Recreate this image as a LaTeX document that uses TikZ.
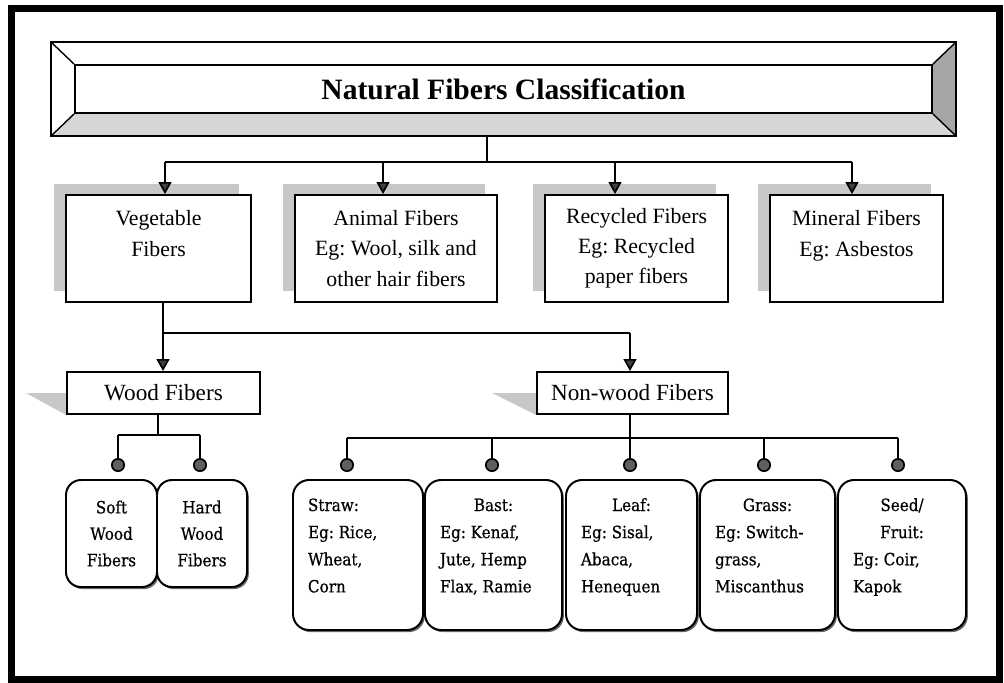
\documentclass[tikz,border=0pt]{standalone}
\usepackage{fontspec}
\setmainfont{Liberation Serif}
\newfontfamily\lowfont[FakeStretch=0.9,FakeBold=0.6]{DejaVu Serif}
\usetikzlibrary{arrows.meta,shadows,backgrounds,calc}

\newlength\pxu
\setlength\pxu{0.25mm}
\newcommand\cellText[3]{\parbox[c][#1\pxu][t]{#2\pxu}{\raggedright#3}}
\frenchspacing

\definecolor{shadeLight}{RGB}{214,214,214}
\definecolor{shadeDark}{RGB}{165,165,165}
\definecolor{flatShadow}{RGB}{200,200,200}
\definecolor{dotGray}{RGB}{95,95,95}

\begin{document}
\def\bevelX{23}
\def\bevelY{22}
\def\busTop{162}
\def\busVeg{333}
\def\busWood{435}
\def\busNonwood{438}
\begin{tikzpicture}[x=\pxu, y=-\pxu,
    busLine/.style={line width=1.2pt},
    arrowLine/.style={line width=1.2pt, -{Triangle[length=3mm, width=3.25mm, fill=black!75]}},
    dotLine/.style={line width=1.2pt, -{Circle[length=3.5mm, fill=dotGray]}, shorten >=7\pxu},
    classBox/.style={draw, line width=1.4pt, fill=white, align=center, inner sep=0pt,
      minimum height=107\pxu, font=\fontsize{15.5}{21.5}\selectfont,
      general shadow={fill=flatShadow, shadow xshift=-12\pxu, shadow yshift=11\pxu}},
    typeBox/.style={draw, line width=1.4pt, fill=white, inner sep=0pt,
      minimum height=42\pxu, font=\fontsize{16.5}{18}\selectfont},
    woodBox/.style={draw, line width=1.4pt, fill=white, rounded corners=15\pxu,
      align=center, inner sep=0pt, minimum height=107\pxu,
      font=\lowfont\fontsize{12}{18.8}\selectfont,
      drop shadow={shadow xshift=1.3pt, shadow yshift=-1.5pt, opacity=0.6, fill=black}},
    leafBox/.style={draw, line width=1.4pt, fill=white, rounded corners=16\pxu,
      inner xsep=15\pxu, inner ysep=12\pxu,
      font=\lowfont\fontsize{12}{19.3}\selectfont,
      drop shadow={shadow xshift=1.3pt, shadow yshift=-1.5pt, opacity=0.6, fill=black}}
  ]
  \useasboundingbox (0,0) rectangle (1004,682);
  \draw[line width=7\pxu] (11.5,8.5) rectangle (999,679);

  \node[draw, line width=1.4pt, fill=white, minimum width=857\pxu, minimum height=48\pxu,
    font=\bfseries\fontsize{21}{24}\selectfont] (title) at (503.5,89)
    {Natural Fibers Classification};
  \coordinate (tNW) at ($(title.north west)+(-\bevelX,-\bevelY)$);
  \coordinate (tNE) at ($(title.north east)+(\bevelX,-\bevelY)$);
  \coordinate (tSW) at ($(title.south west)+(-\bevelX,\bevelY)$);
  \coordinate (tSE) at ($(title.south east)+(\bevelX,\bevelY)$);
  \begin{scope}[on background layer]
    \fill[shadeLight] (title.south west) -- (title.south east) -- (tSE) -- (tSW) -- cycle;
    \fill[shadeDark] (title.north east) -- (tNE) -- (tSE) -- (title.south east) -- cycle;
  \end{scope}
  \draw[line width=1.4pt] (tNW) rectangle (tSE);
  \draw[line width=1pt]
    (tNW) -- (title.north west)
    (tNE) -- (title.north east)
    (tSW) -- (title.south west)
    (tSE) -- (title.south east);

  \node[classBox, minimum width=185\pxu] (veg) at (158.5,248.5) {Vegetable\\Fibers\\~};
  \node[classBox, minimum width=202\pxu] (animal) at (396,248.5)
    {Animal Fibers\\Eg: Wool, silk and\\other hair fibers};
  \node[classBox, minimum width=183\pxu] (recycled) at (636.5,248.5)
    {Recycled Fibers\\Eg: Recycled\\paper fibers};
  \node[classBox, minimum width=173\pxu] (mineral) at (856.5,248.5)
    {Mineral Fibers\\Eg: Asbestos\\~};

  \coordinate (hub) at (487,\busTop);
  \draw[busLine] (tSW -| hub) -- (hub);
  \foreach \xpos/\target in {165/veg, 383/animal, 615/recycled, 852/mineral}
    \draw[arrowLine] (\xpos,\busTop) coordinate (top\target) -- (top\target |- \target.north);
  \draw[busLine] (topveg) -- (topmineral);

  \node[typeBox, minimum width=193\pxu] (wood) at (163.5,393) {Wood Fibers};
  \node[typeBox, minimum width=191\pxu] (nonwood) at (632.5,393) {Non-wood Fibers};
  \begin{scope}[on background layer]
    \fill[flatShadow] (wood.west) -- ++(-40,0) -- (wood.south west) -- cycle;
    \fill[flatShadow] (nonwood.west) -- ++(-44,0) -- (nonwood.south west) -- cycle;
  \end{scope}

  \coordinate (vegHub) at (163,\busVeg);
  \coordinate (nonwoodTop) at (630,\busVeg);
  \draw[busLine] (veg.south -| vegHub) -- (vegHub) -- (nonwoodTop);
  \draw[arrowLine] (vegHub) -- (vegHub |- wood.north);
  \draw[arrowLine] (nonwoodTop) -- (nonwoodTop |- nonwood.north);

  \node[woodBox, minimum width=91\pxu] (soft) at (111.5,533.5) {Soft\\Wood\\Fibers};
  \node[woodBox, minimum width=90\pxu] (hard) at (202,533.5) {Hard\\Wood\\Fibers};

  \coordinate (woodHub) at (158,\busWood);
  \draw[busLine] (wood.south -| woodHub) -- (woodHub);
  \foreach \xpos/\target in {118/soft, 200/hard}
    \draw[dotLine] (\xpos,\busWood) coordinate (dot\target) -- (dot\target |- \target.north);
  \draw[busLine] (dotsoft) -- (dothard);

  \node[leafBox] (straw) at (358,555)
    {\cellText{126}{100}{\strut Straw:\\Eg: Rice,\\Wheat,\\Corn}};
  \node[leafBox] (bast) at (493.5,555)
    {\cellText{126}{107}{\centerline{\strut Bast:}Eg: Kenaf,\\Jute, Hemp\\Flax, Ramie}};
  \node[leafBox] (leaf) at (631.5,555)
    {\cellText{126}{101}{\centerline{\strut Leaf:}Eg: Sisal,\\Abaca,\\Henequen}};
  \node[leafBox] (grass) at (767.5,555)
    {\cellText{126}{105}{\centerline{\strut Grass:}Eg: Switch-\\grass,\\Miscanthus}};
  \node[leafBox] (seed) at (902,555)
    {\cellText{126}{98}{\centerline{\strut Seed/}\centerline{Fruit:}Eg: Coir,\\Kapok}};

  \coordinate (nwHub) at (630,\busNonwood);
  \draw[busLine] (nonwood.south -| nwHub) -- (nwHub);
  \foreach \xpos/\target in {347/straw, 492/bast, 630/leaf, 764/grass, 898/seed}
    \draw[dotLine] (\xpos,\busNonwood) coordinate (dot\target) -- (dot\target |- \target.north);
  \draw[busLine] (dotstraw) -- (dotseed);
\end{tikzpicture}
\end{document}
